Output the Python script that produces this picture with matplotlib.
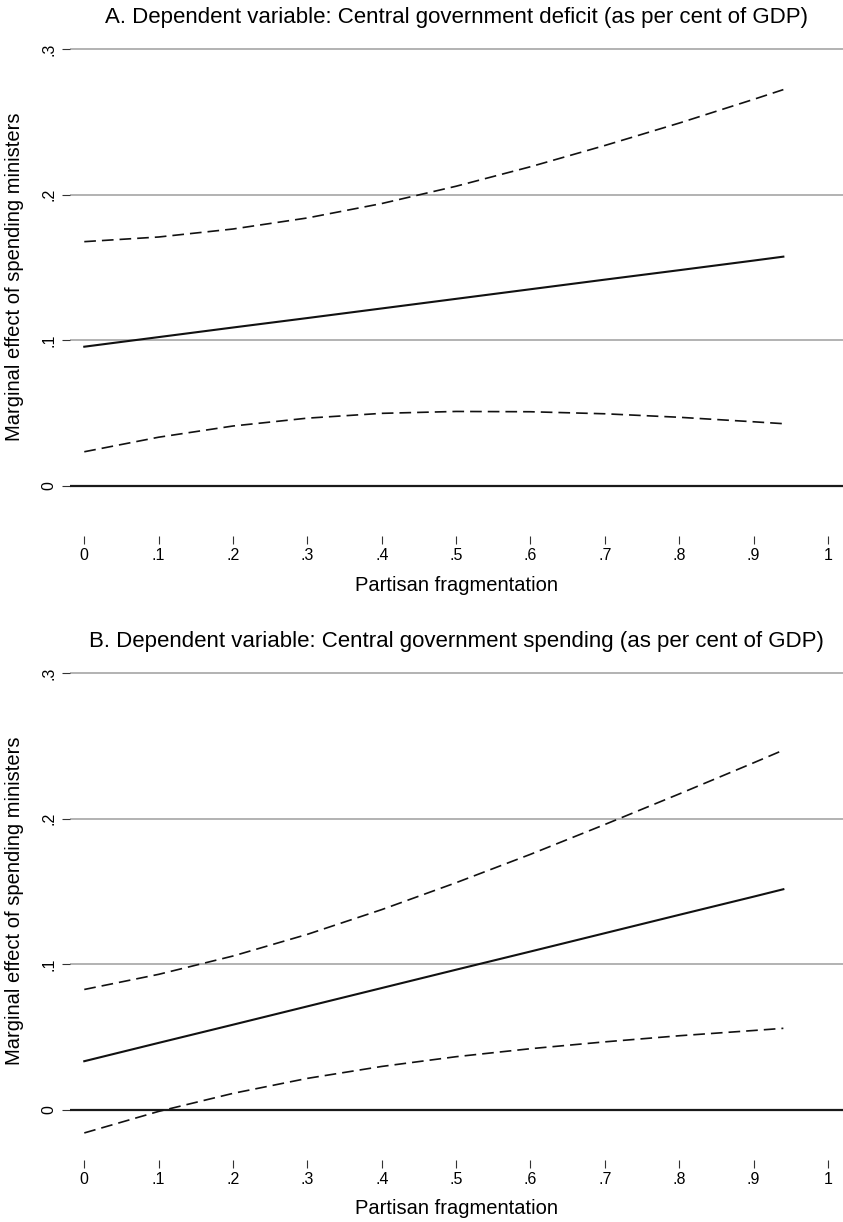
import matplotlib
matplotlib.use("Agg")
import matplotlib.pyplot as plt

plt.rcParams['font.family'] = ['Liberation Sans', 'DejaVu Sans']

# ---- data ----
frag = [0.0, 0.1, 0.2, 0.3, 0.4, 0.5, 0.6, 0.7, 0.8, 0.9, 0.94]

a_effect = [0.0954, 0.1020, 0.1086, 0.1151, 0.1217, 0.1283, 0.1349, 0.1415, 0.1480, 0.1546, 0.1573]
a_upper = [0.1676, 0.1708, 0.1763, 0.1839, 0.1938, 0.2057, 0.2191, 0.2337, 0.2491, 0.2654, 0.2721]
a_lower = [0.0232, 0.0332, 0.0409, 0.0463, 0.0496, 0.0509, 0.0507, 0.0493, 0.0469, 0.0438, 0.0425]

b_effect = [0.0332, 0.0458, 0.0583, 0.0709, 0.0835, 0.0961, 0.1086, 0.1212, 0.1338, 0.1463, 0.1514]
b_upper = [0.0825, 0.0929, 0.1055, 0.1204, 0.1374, 0.1559, 0.1754, 0.1959, 0.2169, 0.2383, 0.2470]
b_lower = [-0.0161, -0.0013, 0.0111, 0.0214, 0.0296, 0.0363, 0.0418, 0.0465, 0.0507, 0.0543, 0.0558]

x_ticks = [0, 0.1, 0.2, 0.3, 0.4, 0.5, 0.6, 0.7, 0.8, 0.9, 1.0]
x_ticklabels = ['0', '.1', '.2', '.3', '.4', '.5', '.6', '.7', '.8', '.9', '1']
y_ticks = [0, 0.1, 0.2, 0.3]
y_ticklabels = ['0', '.1', '.2', '.3']

titles = ['A. Dependent variable: Central government deficit (as per cent of GDP)',
          'B. Dependent variable: Central government spending (as per cent of GDP)']
xlabel = 'Partisan fragmentation'
ylabel = 'Marginal effect of spending ministers'

W, H = 843, 1222
fig = plt.figure(figsize=(W / 100, H / 100), dpi=100)

def px_axes(left, top, right, bottom):
    return fig.add_axes([left / W, 1 - bottom / H, (right - left) / W, (bottom - top) / H])

panels = [
    (a_effect, a_upper, a_lower, 0),
    (b_effect, b_upper, b_lower, 624),
]

for i, (eff, up, lo, off) in enumerate(panels):
    ax = px_axes(70, 40 + off, 843, 536 + off)
    ax.set_xlim(-0.0192, 1.0202)
    ax.set_ylim(-0.0347, 0.3062)
    for s in ax.spines.values():
        s.set_visible(False)
    for yv in y_ticks[1:]:
        ax.axhline(yv, color='#b2b2b2', lw=1.4, zorder=1)
    ax.axhline(0, color='#1a1a1a', lw=1.6, zorder=2)
    ax.plot(frag, eff, color='#111111', lw=1.5, zorder=3)
    ax.plot(frag, up, color='#111111', lw=1.2, dashes=(7, 3.6), zorder=3)
    ax.plot(frag, lo, color='#111111', lw=1.2, dashes=(7, 3.6), zorder=3)
    ax.set_xticks(x_ticks)
    ax.set_xticklabels(x_ticklabels)
    ax.set_yticks(y_ticks)
    ax.set_yticklabels(y_ticklabels, rotation=90, va='center')
    ax.tick_params(axis='x', direction='out', length=5.8, width=0.8, color='#333333',
                   labelsize=11.5, pad=3.0)
    ax.tick_params(axis='y', direction='out', length=5.8, width=0.8, color='#333333',
                   labelsize=11.5, pad=4)
    fig.text(456 / W, 1 - (18 + off) / H, titles[i], ha='center', va='center', fontsize=16)
    fig.text(456.5 / W, 1 - (585 + off) / H, xlabel, ha='center', va='center', fontsize=14.5)
    fig.text(15 / W, 1 - (277 + off) / H, ylabel, ha='center', va='center', rotation=90,
             fontsize=14.5)

fig.savefig('out.png', dpi=100)
